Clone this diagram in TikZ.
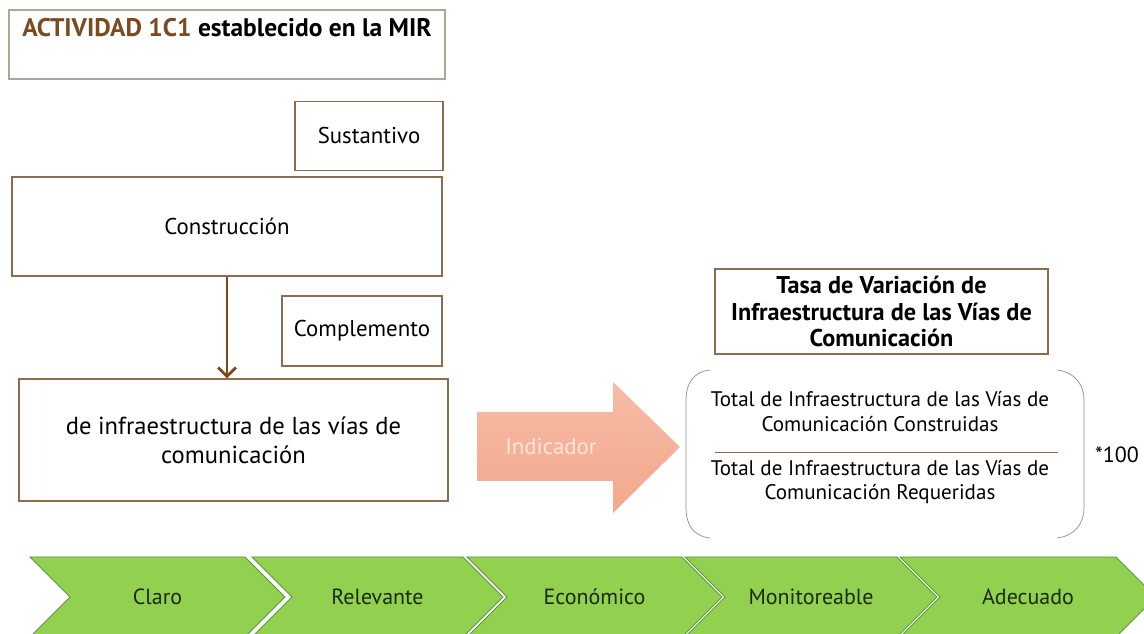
\documentclass[tikz,border=0pt]{standalone}
\usepackage{fontspec}
\setmainfont{PT Sans}
\usetikzlibrary{arrows.meta,positioning}
\definecolor{boxline}{HTML}{8C6D4F}
\definecolor{titleline}{HTML}{B3A596}
\definecolor{brownarrow}{HTML}{7B4A1E}
\definecolor{indtop}{HTML}{F6BBA4}
\definecolor{indbot}{HTML}{F2A98E}
\definecolor{indtext}{HTML}{FCE6DC}
\definecolor{chevfill}{HTML}{92D050}
\definecolor{chevline}{HTML}{5F9440}
\definecolor{chevtext}{HTML}{1C2A12}
\definecolor{parenline}{HTML}{8E8E8E}

\begin{document}
\begin{tikzpicture}[x=0.02cm, y=-0.02cm, font=\fontsize{13}{16}\selectfont,
    caja/.style={draw=boxline, line width=0.8pt, inner sep=0pt, align=center},
    chev/.style={fill=chevfill, draw=chevline, line width=0.5pt}]
    \useasboundingbox (0,0) rectangle (1144,634);
    % cajas de la izquierda
    \node[caja, draw=titleline, minimum width=8.72cm, minimum height=1.38cm] (mir) at (227,44.5) {};
    \node[font=\fontsize{14.5}{17}\selectfont\bfseries] (mirtxt) at (227,28) {\textcolor{brownarrow}{ACTIVIDAD 1C1} establecido en la MIR};
    \node[caja, minimum width=2.96cm, minimum height=1.38cm] (sust) at (369,136) {Sustantivo};
    \node[caja, minimum width=8.6cm, minimum height=1.98cm] (constr) at (227,226.5) {Construcción};
    \node[caja, minimum width=3.2cm, minimum height=1.4cm] (compl) at (362,331) {Complemento};
    \node[caja, minimum width=8.58cm, minimum height=2.44cm, font=\fontsize{14}{16.5}\selectfont] (obj) at (233.5,440) {de infraestructura de las vías de\\comunicación};
    \draw[brownarrow, line width=1.6pt, -{Straight Barb[length=5pt,width=10pt]}] (constr.south) -- (constr.south |- obj.north);
    % flecha del indicador
    \shade[top color=indtop, bottom color=indbot] (477,412) -- (613,412) -- (613,382) -- (680,447) -- (613,513) -- (613,481) -- (477,481) -- cycle;
    \node[text=indtext] (ind) at (551,447) {Indicador};
    % formula
    \node[caja, minimum width=6.66cm, minimum height=1.7cm, font=\fontsize{13.8}{15.3}\selectfont\bfseries] (tasa) at (881.5,311.5) {Tasa de Variación de\\Infraestructura de las Vías de\\Comunicación};
    \node[align=center, font=\fontsize{12}{14.2}\selectfont] (num) at (880,412) {Total de Infraestructura de las Vías de\\Comunicación Construidas};
    \node[align=center, font=\fontsize{12}{14.2}\selectfont] (den) at (880,482) {Total de Infraestructura de las Vías de\\Comunicación Requeridas};
    \draw[boxline] (715,452) -- (1058,452);
    \draw[parenline] (710,370) .. controls (692,372) and (686,385) .. (686,400) -- (686,508) .. controls (686,523) and (692,536) .. (710,538);
    \draw[parenline] (1057,370) .. controls (1075,372) and (1084,385) .. (1084,400) -- (1084,508) .. controls (1084,523) and (1075,536) .. (1057,538);
    \node[font=\fontsize{12.5}{15}\selectfont] (cien) at (1117,455) {*100};
    % flechas de criterios
    \foreach \l/\r/\lab [count=\i] in {30/245/Claro, 252/463/Relevante, 467/682/Económico, 685/897/Monitoreable, 900/1116/Adecuado} {
        \draw[chev] (\l,557) -- (\r,557) -- (\r+40,597) -- (\r,637) -- (\l,637) -- (\l+40,597) -- cycle;
        \node[text=chevtext, font=\fontsize{12.5}{15}\selectfont] (c\i) at ({(\l+40+\r)/2},597) {\lab};
    }
\end{tikzpicture}
\end{document}
